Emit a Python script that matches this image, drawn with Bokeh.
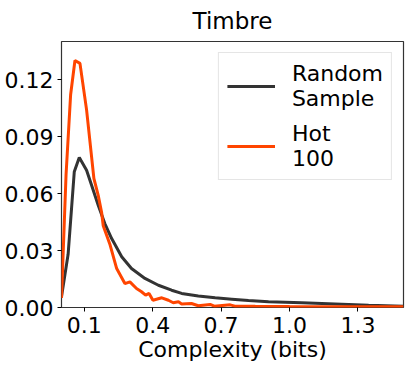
from bokeh.plotting import figure
from bokeh.models import Range1d, FixedTicker, PrintfTickFormatter, Legend, LegendItem
from bokeh.embed import file_html
from bokeh.resources import INLINE

# Data
random_x = [0.0, 0.029, 0.056, 0.066, 0.078, 0.085, 0.11, 0.132, 0.161, 0.19, 0.22,
            0.264, 0.307, 0.366, 0.425, 0.483, 0.527, 0.60, 0.674, 0.747, 0.82,
            0.908, 1.054, 1.2, 1.347, 1.5]
random_y = [0.0056, 0.028, 0.0714, 0.0749, 0.079, 0.0775, 0.0722, 0.0643, 0.0538,
            0.0442, 0.0363, 0.0267, 0.0205, 0.0153, 0.0117, 0.0091, 0.0074, 0.006,
            0.0051, 0.0044, 0.0037, 0.003, 0.0025, 0.0019, 0.0012, 0.0007]

hot_x = [0.0, 0.02, 0.04, 0.059, 0.081, 0.11, 0.142, 0.161, 0.176, 0.183, 0.213,
         0.242, 0.278, 0.30, 0.329, 0.351, 0.369, 0.384, 0.401, 0.44, 0.469, 0.49,
         0.513, 0.527, 0.57, 0.60, 0.652, 0.67, 0.74, 0.76, 0.85, 1.0, 1.2, 1.5]
hot_y = [0.005, 0.07, 0.112, 0.130, 0.1285, 0.104, 0.068, 0.059, 0.050, 0.043, 0.033,
         0.0205, 0.0126, 0.0135, 0.010, 0.0083, 0.0065, 0.0074, 0.0038, 0.0051, 0.0038,
         0.0025, 0.003, 0.0019, 0.0021, 0.0009, 0.0016, 0.0007, 0.0014, 0.0007, 0.0006,
         0.0005, 0.0004, 0.0004]

x_ticks = [0.1, 0.4, 0.7, 1.0, 1.3]
y_ticks = [0.0, 0.03, 0.06, 0.09, 0.12]

FONT = "DejaVu Sans"

p = figure(frame_width=342, frame_height=266, output_backend="svg", toolbar_location=None,
           x_range=Range1d(0, 1.5), y_range=Range1d(0, 0.14),
           min_border_left=61, min_border_right=2, min_border_top=41, min_border_bottom=52,
           title="Timbre")
p.title.text_font = FONT
p.title.text_font_size = "23px"
p.title.text_font_style = "normal"
p.title.align = "center"
p.title.vertical_align = "top"
p.title.text_color = "black"
p.title.standoff = 12

p.xgrid.visible = False
p.ygrid.visible = False
p.outline_line_color = "#333333"
p.outline_line_width = 1.2
p.outline_line_alpha = 1

for ax in (p.xaxis[0], p.yaxis[0]):
    ax.axis_line_color = None
    ax.major_tick_out = 4
    ax.major_tick_in = 0
    ax.minor_tick_line_color = None
    ax.major_tick_line_color = "black"
    ax.major_label_text_font = FONT
    ax.major_label_text_font_size = "22px"
    ax.major_label_text_color = "black"

p.xaxis.ticker = FixedTicker(ticks=x_ticks)
p.yaxis.ticker = FixedTicker(ticks=y_ticks)
p.xaxis.formatter = PrintfTickFormatter(format="%.1f")
p.yaxis.formatter = PrintfTickFormatter(format="%.2f")
p.xaxis.axis_label = "Complexity (bits)"
p.xaxis.axis_label_text_font = FONT
p.xaxis.axis_label_text_font_size = "22px"
p.xaxis.axis_label_text_font_style = "normal"
p.xaxis.axis_label_text_color = "black"
p.xaxis.axis_label_standoff = 1
p.xaxis.major_label_standoff = 5
p.yaxis.major_label_standoff = 4

r1 = p.line(random_x, random_y, line_color="#333333", line_width=3)
r2 = p.line(hot_x, hot_y, line_color="#FF4500", line_width=3)

legend = Legend(items=[LegendItem(label="Random\nSample", renderers=[r1]),
                       LegendItem(label="Hot\n100", renderers=[r2])],
                location="top_right")
legend.label_text_font = FONT
legend.label_text_font_size = "22px"
legend.label_text_color = "black"
legend.label_text_line_height = 1.1
legend.label_standoff = 17
legend.glyph_width = 48
legend.padding = 8
legend.spacing = 10
legend.margin = 11
legend.border_line_color = "#cccccc"
legend.border_line_width = 1
legend.background_fill_alpha = 0.8
p.add_layout(legend)

open("out.html", "w").write(file_html(p, INLINE))
